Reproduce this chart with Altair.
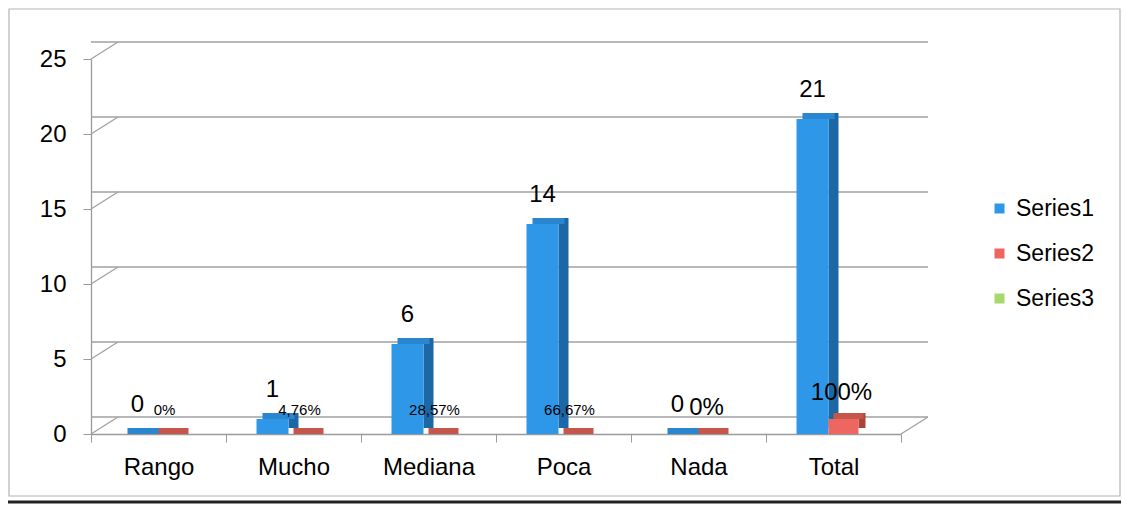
import altair as alt
import pandas as pd

categories = ["Rango", "Mucho", "Mediana", "Poca", "Nada", "Total"]
series1 = [0, 1, 6, 14, 0, 21]
# Series2 bar heights as drawn in the picture (only Total rises, to 1)
series2 = [0, 0, 0, 0, 0, 1]
series1_labels = ["0", "1", "6", "14", "0", "21"]
series2_labels = ["0%", "4,76%", "28,57%", "66,67%", "0%", "100%"]
series_names = ["Series1", "Series2", "Series3"]
y_ticks = [0, 5, 10, 15, 20, 25]
big_pct = ["Nada", "Total"]

W, H = 810, 375
PAD_L, PAD_T, PAD_R, PAD_B = 83, 51, 220, 70
DX, DY = 27, -17
FONT = "Liberation Sans"

df1 = pd.DataFrame({"cat": categories, "value": series1, "label": series1_labels, "series": "Series1"})
df2 = pd.DataFrame({"cat": categories, "value": series2, "label": series2_labels, "series": "Series2"})
grid = pd.DataFrame({"v": y_ticks})
one = pd.DataFrame({"k": [0]})

yscale = alt.Scale(domain=[0, 25], nice=False)
x = alt.X("cat:N", sort=categories, title=None,
          scale=alt.Scale(paddingInner=0, paddingOuter=0))
y = alt.Y("value:Q", title=None, scale=yscale, axis=alt.Axis(values=y_ticks))

color = alt.Color("series:N", title=None,
                  scale=alt.Scale(domain=series_names, range=["#2f97e8", "#ee6660", "#a6d86a"]),
                  legend=alt.Legend(orient="none", legendX=897, legendY=138,
                                    symbolType="square", symbolSize=100,
                                    labelFontSize=23, labelFont=FONT, labelColor="black",
                                    rowPadding=21, labelOffset=5, padding=0))

# outer frame of the figure and the dark edge at the bottom
frame = alt.Chart(one).mark_rect(filled=False, stroke="#b4b4b4", strokeWidth=1.2).encode(
    x=alt.value(-PAD_L + 1), x2=alt.value(W + PAD_R - 1),
    y=alt.value(-PAD_T + 1), y2=alt.value(H + PAD_B - 8))
bottom_edge = alt.Chart(one).mark_rule(color="#222222", strokeWidth=3).encode(
    x=alt.value(-PAD_L), x2=alt.value(W + PAD_R), y=alt.value(H + PAD_B - 2))

# back-wall grid lines and their diagonal connectors
grid_lines = alt.Chart(grid).mark_rule(color="#a0a0a0", strokeWidth=1.3,
                                        xOffset=DX, x2Offset=DX, yOffset=DY, y2Offset=DY).encode(
    y=alt.Y("v:Q", title=None, scale=yscale))
grid_conn = alt.Chart(grid).mark_rule(color="#a0a0a0", strokeWidth=1.3, y2Offset=DY).encode(
    x=alt.value(0), x2=alt.value(DX), y=alt.Y("v:Q", title=None, scale=yscale), y2="v:Q")
floor_right = alt.Chart(pd.DataFrame({"v": [0]})).mark_rule(color="#a0a0a0", strokeWidth=1.3, y2Offset=DY).encode(
    x=alt.value(W), x2=alt.value(W + DX), y=alt.Y("v:Q", title=None, scale=yscale), y2="v:Q")

# Series1 3D-ish bars
b1_side = alt.Chart(df1).mark_bar(width=10, xOffset=0, yOffset=-6, y2Offset=-3, color="#1c68a6").encode(x=x, y=y)
b1_top = alt.Chart(df1).mark_bar(width=32, xOffset=-15, yOffset=-6, color="#2a86cf").encode(x=x, y=y, y2="value:Q")
b1_front = alt.Chart(df1).mark_bar(width=32, xOffset=-21).encode(x=x, y=y, color=color)

# Series2 3D-ish bars
b2_side = alt.Chart(df2).mark_bar(width=7, xOffset=28.5, yOffset=-6, y2Offset=-3, color="#a8443a").encode(x=x, y=y)
b2_top = alt.Chart(df2).mark_bar(width=30, xOffset=15, yOffset=-6, color="#c4564b").encode(x=x, y=y, y2="value:Q")
b2_front = alt.Chart(df2).mark_bar(width=30, xOffset=10).encode(x=x, y=y, color=color)

t1 = alt.Chart(df1).mark_text(xOffset=-21, dy=-22, baseline="alphabetic", fontSize=24,
                              font=FONT, color="black").encode(x=x, y=y, text="label:N")
t2_small = alt.Chart(df2).transform_filter(
    ~alt.FieldOneOfPredicate(field="cat", oneOf=big_pct)).mark_text(
    xOffset=6, dy=-19, baseline="alphabetic", fontSize=15, font=FONT, color="black").encode(
    x=x, y=y, text="label:N")
t2_big = alt.Chart(df2).transform_filter(
    alt.FieldOneOfPredicate(field="cat", oneOf=big_pct)).mark_text(
    xOffset=8, dy=-19, baseline="alphabetic", fontSize=24, font=FONT, color="black").encode(
    x=x, y=y, text="label:N")

chart = alt.layer(
    frame, bottom_edge,
    grid_lines, grid_conn, floor_right,
    b1_side, b1_top, b1_front,
    b2_side, b2_top, b2_front,
    t1, t2_small, t2_big,
).properties(
    width=W, height=H,
    autosize=alt.AutoSizeParams(type="none"),
    padding={"left": PAD_L, "top": PAD_T, "right": PAD_R, "bottom": PAD_B},
    background="white",
).configure_view(stroke=None).configure_axisX(
    labelFontSize=24, labelFont=FONT, labelColor="black", labelAngle=0,
    domainColor="#9a9a9a", domainWidth=1.3, tickColor="#9a9a9a", tickSize=8,
    tickBand="extent", labelPadding=13, grid=False,
).configure_axisY(
    labelFontSize=24, labelFont=FONT, labelColor="black",
    domainColor="#9a9a9a", domainWidth=1.3, tickColor="#9a9a9a", tickSize=8,
    labelPadding=17, grid=False,
)

chart.save("out.html", embed_options={"renderer": "svg", "actions": False})
